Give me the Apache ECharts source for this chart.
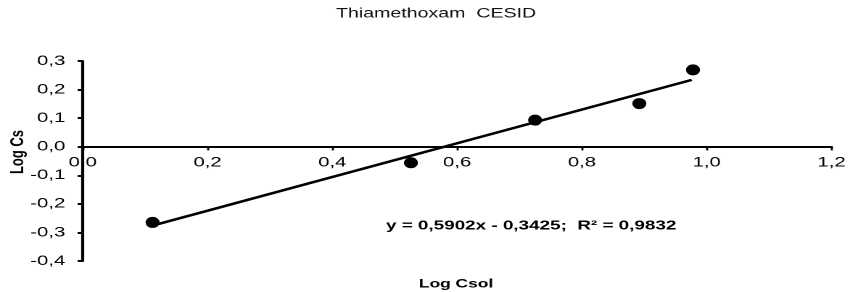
<!DOCTYPE html>
<html>
<head>
<meta charset="utf-8">
<script src="https://cdn.jsdelivr.net/npm/echarts@6/dist/echarts.min.js"></script>
<style>
html,body{margin:0;padding:0;background:#fff;overflow:hidden;width:850px;height:292px;}
#c{width:586px;height:292px;transform:scaleX(1.4505);transform-origin:0 0;}
</style>
</head>
<body>
<div id="c"></div>
<script>
const chartTitle = 'Thiamethoxam  CESID';
const xTitle = 'Log Csol';
const yTitle = 'Log Cs';
const equationText = 'y = 0,5902x - 0,3425;  R² = 0,9832';
const logCsol = [0.112, 0.526, 0.725, 0.892, 0.978];
const logCs = [-0.265, -0.056, 0.093, 0.151, 0.269];
const trendX = [0.112, 0.976];
const trendY = [-0.276, 0.234];
const xTicks = {min: 0, max: 1.2, interval: 0.2};
const yTicks = {min: -0.4, max: 0.3, interval: 0.1};

const FONT = 'Arial, "Liberation Sans", sans-serif';
const fmt = v => v.toFixed(1).replace('.', ',');

const chart = echarts.init(document.getElementById('c'), null, {renderer: 'canvas', devicePixelRatio: 2});
chart.setOption({
  animation: false,
  backgroundColor: '#ffffff',
  grid: {left: 57, right: 9.6, top: 61, bottom: 31, containLabel: false},
  xAxis: {
    type: 'value', min: xTicks.min, max: xTicks.max, interval: xTicks.interval,
    offset: -114.6,
    axisLine: {onZero: false, lineStyle: {color: '#000', width: 2}},
    axisTick: {show: true, inside: false, length: 4, lineStyle: {color: '#000', width: 1.4}},
    axisLabel: {color: '#000', fontFamily: FONT, fontSize: 14, margin: 9, formatter: fmt},
    splitLine: {show: false}
  },
  yAxis: {
    type: 'value', min: yTicks.min, max: yTicks.max, interval: yTicks.interval,
    axisLine: {show: true, onZero: false, lineStyle: {color: '#000', width: 2.1}},
    axisTick: {show: true, inside: false, length: 3.5, lineStyle: {color: '#000', width: 2}},
    axisLabel: {color: '#000', fontFamily: FONT, fontSize: 14, margin: 12, formatter: fmt},
    splitLine: {show: false}
  },
  series: [
    {
      type: 'line',
      data: trendX.map((x, i) => [x, trendY[i]]),
      symbol: 'none',
      lineStyle: {color: '#000', width: 2.5, opacity: 1},
      z: 2
    },
    {
      type: 'scatter',
      data: logCsol.map((x, i) => [x, logCs[i]]),
      symbol: 'circle',
      symbolSize: [9.7, 11],
      itemStyle: {color: '#000', opacity: 1},
      z: 3
    }
  ],
  graphic: [
    {type: 'text', x: 300.6, y: 14, style: {text: chartTitle, font: '13.5px ' + FONT, fill: '#111', align: 'center', verticalAlign: 'middle'}},
    {type: 'text', x: 314.4, y: 284, style: {text: xTitle, font: 'bold 12px ' + FONT, fill: '#000', align: 'center', verticalAlign: 'middle'}},
    {type: 'text', x: 12.4, y: 152, rotation: Math.PI / 2, style: {text: yTitle, font: 'bold 13px ' + FONT, fill: '#000', align: 'center', verticalAlign: 'middle'}},
    {type: 'text', x: 266.1, y: 226, style: {text: equationText, font: 'bold 13px ' + FONT, fill: '#000', align: 'left', verticalAlign: 'middle'}}
  ]
});
</script>
</body>
</html>
